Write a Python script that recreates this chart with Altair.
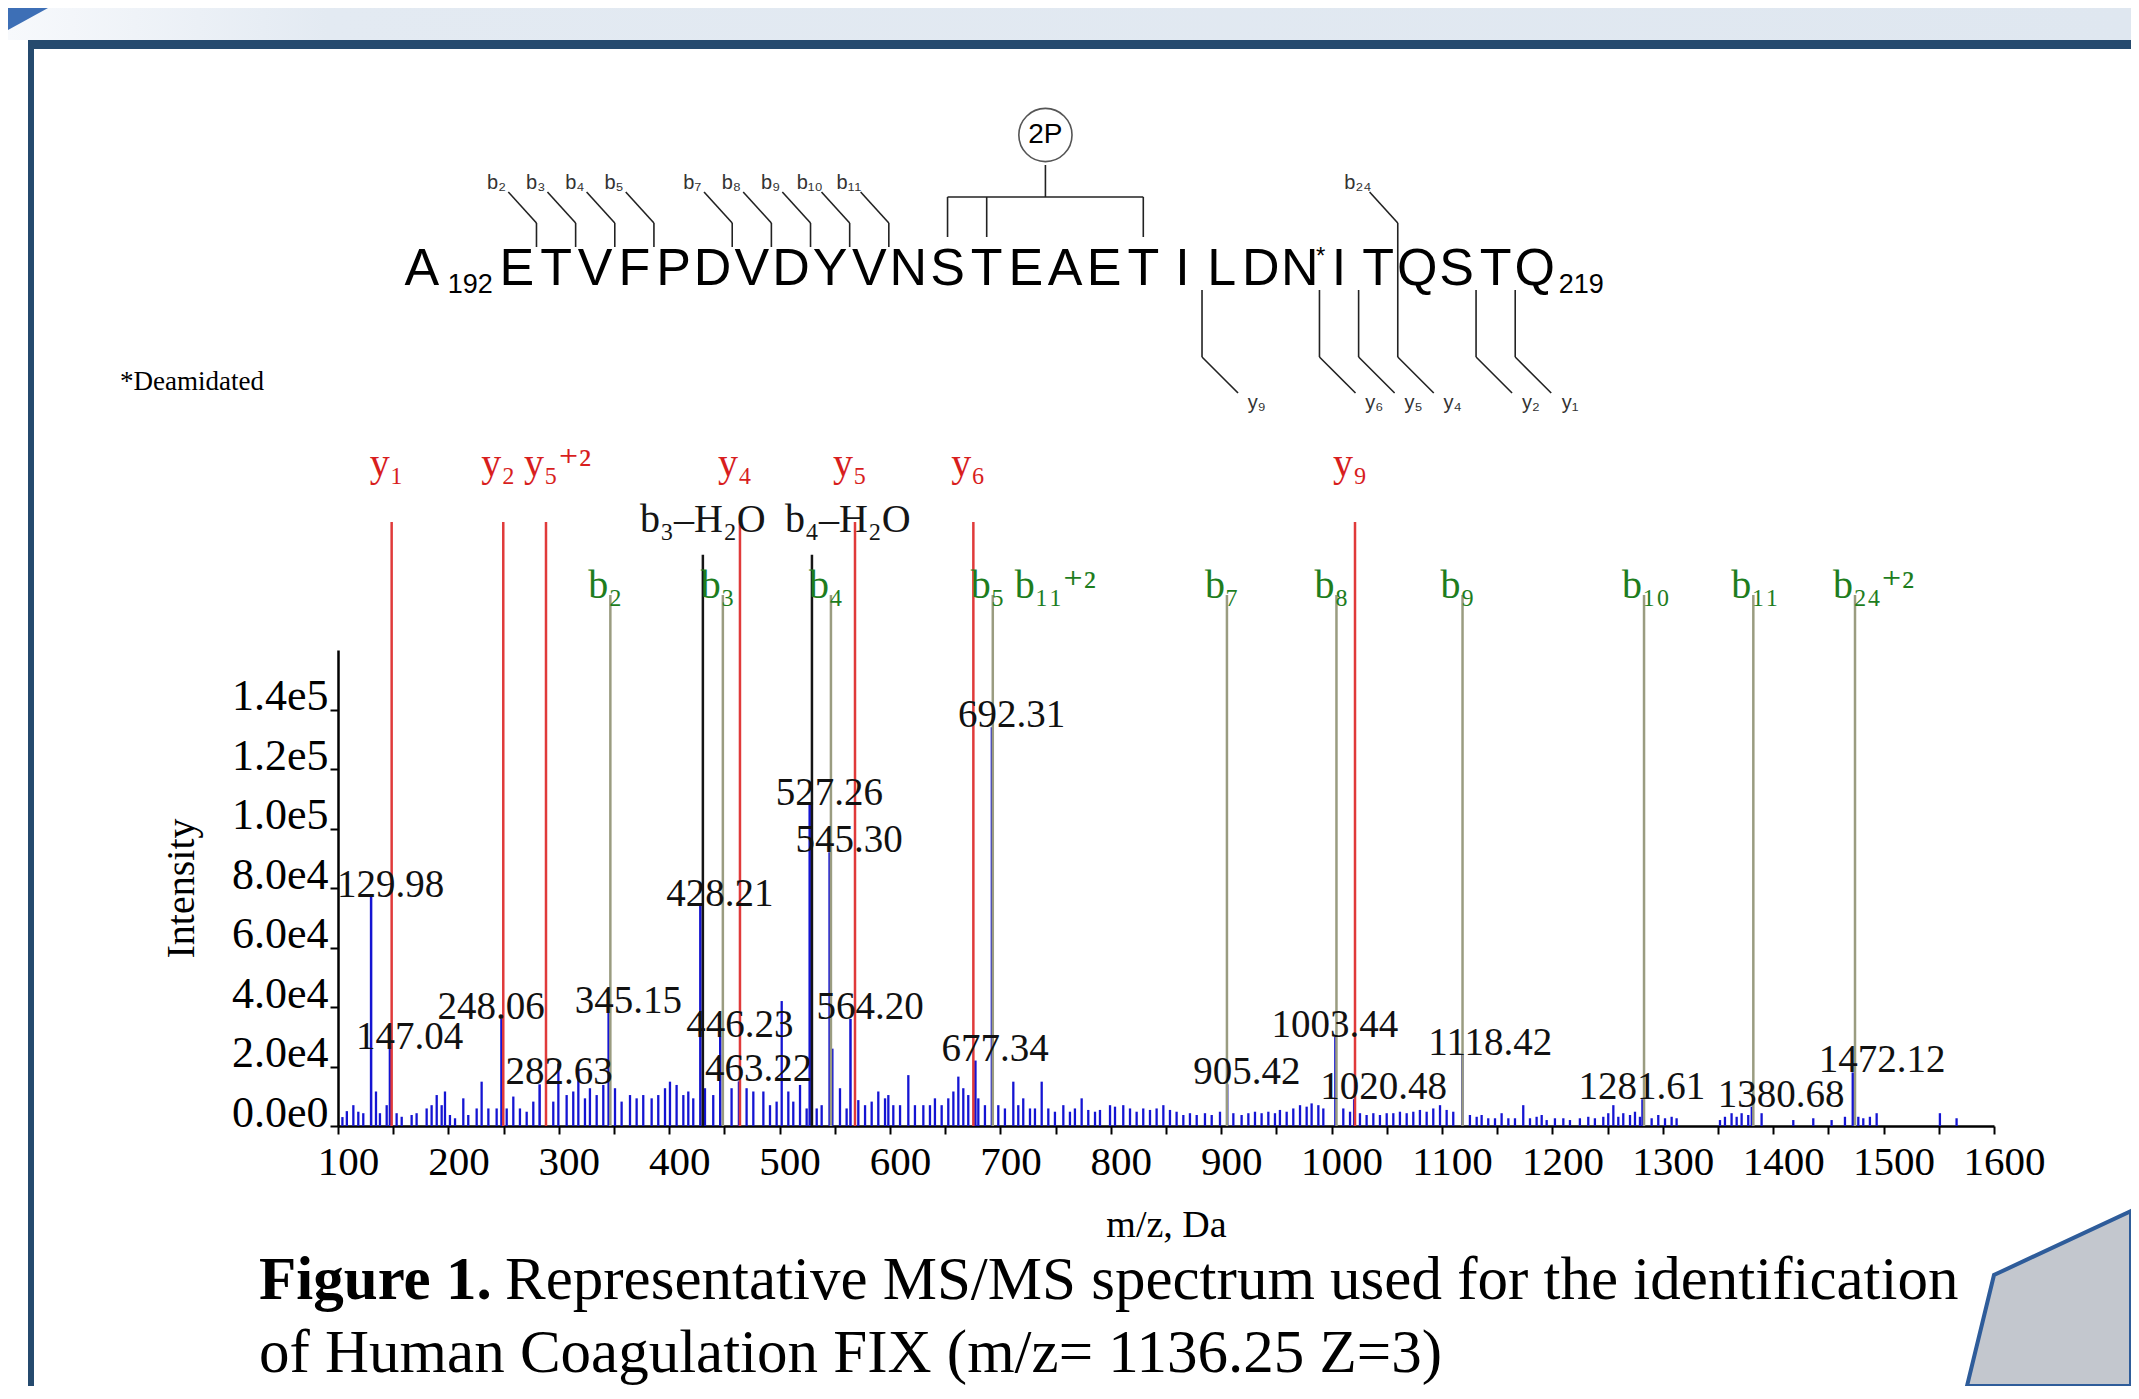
import altair as alt
import pandas as pd

# ---------------- data ----------------
peak_mz = [129.98, 147.04, 248.06, 282.63, 345.15, 428.21, 446.23, 463.22,
           527.26, 545.30, 564.20, 677.34, 692.31, 905.42, 1003.44, 1020.48,
           1118.42, 1281.61, 1380.68, 1472.12]
peak_int = [77000, 26000, 36000, 14000, 38000, 74000, 30000, 15000,
            108000, 92000, 36000, 22000, 134000, 14000, 30000, 9000,
            24000, 9000, 6500, 18000]
# labels that the reference pushes further left to keep them apart
shifted_labels = ["248.06", "1003.44", "1281.61"]

noise_mz = [104.0, 108.0, 113.9, 118.4, 122.9, 134.4, 138.0, 144.1, 153.1, 157.7,
            166.7, 171.2, 180.3, 184.8, 189.4, 193.9, 196.9, 201.4, 206.0, 213.5,
            218.0, 225.6, 230.1, 236.2, 243.7, 252.8, 258.8, 264.8, 270.9, 276.9,
            295.0, 299.6, 307.1, 313.1, 317.7, 323.7, 328.2, 334.3, 340.3, 350.9,
            356.9, 364.5, 370.5, 376.5, 384.1, 390.1, 396.2, 400.7, 406.7, 412.8,
            417.3, 421.8, 432.4, 439.9, 456.5, 470.1, 476.2, 485.3, 491.3, 497.3,
            501.9, 507.9, 512.4, 518.5, 524.5, 533.6, 538.1, 547.8, 554.7, 560.7,
            571.3, 577.4, 583.4, 589.4, 595.5, 598.5, 603.0, 609.1, 616.6, 622.6,
            630.2, 636.2, 640.7, 646.8, 652.8, 657.4, 661.9, 666.4, 670.9, 680.0,
            686.0, 698.1, 704.1, 711.7, 716.2, 720.7, 726.8, 731.3, 737.4, 743.4,
            749.4, 757.0, 763.0, 767.5, 773.6, 779.6, 785.7, 790.2, 799.3, 803.8,
            811.3, 817.4, 823.4, 829.4, 835.5, 841.5, 847.6, 853.6, 859.6, 865.7,
            871.7, 877.8, 885.3, 891.4, 898.9, 911.0, 918.5, 924.6, 930.6, 936.6,
            942.7, 948.7, 953.2, 959.3, 965.3, 971.4, 977.4, 981.9, 988.0, 992.5,
            1010.6, 1016.7, 1025.7, 1031.7, 1037.8, 1043.8, 1049.9, 1055.9, 1061.9, 1068.0,
            1074.0, 1080.0, 1086.1, 1092.1, 1098.2, 1104.2, 1110.2, 1125.3, 1131.4, 1135.9,
            1141.9, 1148.0, 1154.0, 1160.1, 1166.1, 1173.6, 1179.7, 1185.7, 1190.3, 1194.8,
            1202.3, 1209.9, 1215.9, 1224.9, 1232.5, 1238.5, 1246.1, 1250.6, 1255.2, 1259.7,
            1264.2, 1270.3, 1274.8, 1279.3, 1289.9, 1295.9, 1302.0, 1308.0, 1312.5, 1351.8,
            1356.3, 1362.3, 1366.9, 1371.4, 1377.4, 1389.5, 1418.2, 1436.3, 1452.9, 1465.0,
            1477.1, 1481.6, 1487.6, 1493.7, 1551.0, 1566.1]
noise_int = [3000, 5000, 7000, 4800, 4300, 11600, 4300, 7000, 4300, 3100,
             3700, 4300, 5900, 7000, 10400, 7000, 11600, 3700, 2600, 9300,
             3700, 5900, 14900, 5900, 5900, 5900, 9900, 5900, 4800, 8200,
             8200, 21000, 10400, 11600, 19600, 9300, 12700, 10400, 13800, 12700,
             8200, 10400, 9300, 10400, 9300, 10400, 12700, 14900, 13800, 10400,
             11600, 9300, 12700, 10400, 12700, 12700, 11600, 11600, 7000, 8200,
             42000, 11600, 8200, 13800, 5900, 5900, 7000, 26000, 12700, 5900,
             8700, 7000, 8200, 11600, 9300, 10400, 7000, 7000, 17100, 7000,
             7000, 7000, 9300, 7000, 9300, 11600, 16600, 12700, 10400, 9300,
             7000, 7000, 5900, 14900, 7000, 9300, 5900, 5900, 14900, 5900,
             4800, 7000, 4800, 5900, 9300, 5400, 4800, 5400, 7000, 6500,
             7000, 5900, 4800, 5900, 5400, 5900, 7000, 5400, 4800, 3700,
             4300, 3700, 4300, 3700, 4800, 4300, 3700, 4300, 4800, 4300,
             4800, 4300, 5400, 4800, 5900, 7000, 6500, 7600, 7000, 5900,
             5900, 4800, 4300, 3700, 4300, 3700, 4300, 4300, 4800, 4300,
             4800, 5400, 4800, 5900, 7000, 5400, 4800, 3700, 3100, 3700,
             2600, 2600, 4300, 2600, 2600, 7000, 2600, 3100, 3700, 2000,
             2600, 2600, 2000, 2600, 3100, 2600, 3100, 4300, 7000, 3100,
             4300, 3700, 4800, 3100, 2600, 3700, 2600, 3100, 2600, 2000,
             3100, 4300, 3100, 4300, 3700, 4300, 2000, 2600, 2000, 3100,
             3100, 2600, 3100, 4300, 4300, 2600]

y_ion_labels = ["y₁", "y₂", "y₅⁺²", "y₄", "y₅", "y₆", "y₉"]
y_ion_mz = [148.6, 249.7, 288.4, 464.1, 568.3, 675.5, 1021.2]
b_ion_labels = ["b₂", "b₃", "b₄", "b₅ b₁₁⁺²", "b₇", "b₈", "b₉", "b₁₀", "b₁₁", "b₂₄⁺²"]
b_ion_mz = [346.7, 448.6, 546.5, 693.1, 905.2, 1004.4, 1118.6, 1283.0, 1382.0, 1474.1]
loss_labels = ["b₃–H₂O", "b₄–H₂O"]
loss_mz = [430.5, 529.3]

sequence = "AETVFPDVDYVNSTEAETILDNITQSTQ"
first_residue = 192
b_fragments = [2, 3, 4, 5, 7, 8, 9, 10, 11, 24]
y_fragments = [9, 6, 5, 4, 2, 1]
phospho_sites = [204, 205, 209]
deamidated_site = 213

caption_bold = "Figure 1."
caption_line1 = "Representative MS/MS spectrum used for the identification"
caption_line2 = "of Human Coagulation FIX (m/z= 1136.25 Z=3)"

# ---------------- styles / layout ----------------
BLUE = "#1414D2"
RED = "#E03A3A"
RED_TXT = "#D81E1E"
OLIVE = "#9A9C80"
GREEN_TXT = "#1E7D1E"
BLACK = "#151515"
SERIF = "Liberation Serif, DejaVu Serif, serif"
SANS = "Liberation Sans, Arial, DejaVu Sans, sans-serif"

RED_TOP, RED_LAB = 203000, 222500
GREEN_TOP, GREEN_LAB = 178500, 181500
BLACK_TOP, BLACK_LAB = 192000, 203700

SUB = str.maketrans("0123456789", "₀₁₂₃₄₅₆₇₈₉")
def sub(n):
    return str(n).translate(SUB)

n_res = len(sequence)
last_residue = first_residue + n_res - 1

# ---------------- tables ----------------
noise_df = pd.DataFrame({"mz": noise_mz, "intensity": noise_int})
peak_df = pd.DataFrame({"mz": peak_mz, "intensity": peak_int,
                        "label": [f"{m:.2f}" for m in peak_mz]})
peak_df["shift"] = peak_df["label"].isin(shifted_labels)
red_df = pd.DataFrame({"mz": y_ion_mz, "intensity": RED_TOP, "label": y_ion_labels})
red_lab = red_df.assign(intensity=RED_LAB)
green_df = pd.DataFrame({"mz": b_ion_mz, "intensity": GREEN_TOP, "label": b_ion_labels})
green_lab = green_df.assign(intensity=GREEN_LAB)
black_df = pd.DataFrame({"mz": loss_mz, "intensity": BLACK_TOP, "label": loss_labels,
                         "k": [0, 1]})
black_lab = black_df.assign(intensity=BLACK_LAB)

spec_x = alt.X("mz:Q", title="m/z, Da",
               scale=alt.Scale(domain=[100, 1600], nice=False, zero=False),
               axis=alt.Axis(values=list(range(100, 1601, 50)),
                             labelExpr="datum.value % 100 == 0 ? datum.label : ''",
                             format="d", grid=False, domainColor="black", domainWidth=2.5,
                             tickColor="black", tickWidth=2, tickSize=8,
                             labelFont=SERIF, labelFontSize=41, labelColor="black",
                             labelPadding=8, labelOffset=10, labelFlush=False,
                             labelOverlap=False,
                             titleFont=SERIF, titleFontSize=38, titleFontWeight="normal",
                             titleColor="black", titlePadding=24))
spec_y = alt.Y("intensity:Q", title="Intensity",
               scale=alt.Scale(domain=[0, 160000], nice=False, zero=False),
               axis=alt.Axis(values=[0, 20000, 40000, 60000, 80000, 100000, 120000, 140000],
                             labelExpr="replace(format(datum.value, '.1e'), '+', '')",
                             grid=False, domainColor="black", domainWidth=2.5,
                             tickColor="black", tickWidth=2, tickSize=8,
                             labelFont=SERIF, labelFontSize=44, labelColor="black",
                             labelPadding=2, labelBaseline="alphabetic", labelOverlap=False,
                             titleFont=SERIF, titleFontSize=40, titleFontWeight="normal",
                             titleColor="black", titlePadding=30))
base0 = alt.datum(0)

noise = alt.Chart(noise_df).mark_rule(color=BLUE, strokeWidth=2.3).encode(x=spec_x, y=spec_y, y2=base0)
peaks = alt.Chart(peak_df).mark_rule(color=BLUE, strokeWidth=2.5).encode(x=spec_x, y=spec_y, y2=base0)
black_rules = alt.Chart(black_df).mark_rule(color=BLACK, strokeWidth=2.5).encode(x=spec_x, y=spec_y, y2=base0)
green_rules = alt.Chart(green_df).mark_rule(color=OLIVE, strokeWidth=2.5).encode(x=spec_x, y=spec_y, y2=base0)
red_rules = alt.Chart(red_df).mark_rule(color=RED, strokeWidth=2.5).encode(x=spec_x, y=spec_y, y2=base0)
peak_text = alt.Chart(peak_df).transform_filter("!datum.shift").mark_text(
    align="left", baseline="middle", dx=-34, dy=-12,
    font=SERIF, fontSize=39, color="#111111").encode(x=spec_x, y=spec_y, text="label:N")
peak_text_shift = alt.Chart(peak_df).transform_filter("datum.shift").mark_text(
    align="left", baseline="middle", dx=-64, dy=-12,
    font=SERIF, fontSize=39, color="#111111").encode(x=spec_x, y=spec_y, text="label:N")
red_text = alt.Chart(red_lab).mark_text(align="left", baseline="middle", dx=-22,
                                        font=SERIF, fontSize=40, color=RED_TXT).encode(
    x=spec_x, y=spec_y, text="label:N")
green_text = alt.Chart(green_lab).mark_text(align="left", baseline="middle", dx=-22,
                                            font=SERIF, fontSize=40, color=GREEN_TXT).encode(
    x=spec_x, y=spec_y, text="label:N")
black_text_c = alt.Chart(black_lab).transform_filter("datum.k == 0").mark_text(
    align="center", baseline="middle", font=SERIF, fontSize=40, color=BLACK).encode(
    x=spec_x, y=spec_y, text="label:N")
black_text_l = alt.Chart(black_lab).transform_filter("datum.k == 1").mark_text(
    align="left", baseline="middle", dx=-27, font=SERIF, fontSize=40, color=BLACK).encode(
    x=spec_x, y=spec_y, text="label:N")

spectrum = alt.layer(noise, peaks, black_rules, green_rules, red_rules,
                     peak_text, peak_text_shift, red_text, green_text,
                     black_text_c, black_text_l)

# ---------------- peptide schematic (residue scale) ----------------
RES_DOMAIN = [188.43, 230.73]
PAGE_Y = [1126, 650]
sx = alt.X("res:Q", scale=alt.Scale(domain=RES_DOMAIN, nice=False, zero=False), axis=None)
sy = alt.Y("py:Q", scale=alt.Scale(domain=PAGE_Y, nice=False, zero=False), axis=None)

seq_rows = [{"res": first_residue + i, "py": 285, "aa": aa} for i, aa in enumerate(sequence)]
seq_df = pd.DataFrame(seq_rows)

segs = []
labs = []
for n in b_fragments:
    bx = first_residue + n - 0.5
    segs.append({"res": bx, "res2": bx, "py": 247, "py2": 223})
    segs.append({"res": bx, "res2": bx - 0.72, "py": 223, "py2": 192})
    labs.append({"res": bx - 1.02, "py": 183, "t": "b" + sub(n)})
    if (n_res - n) in y_fragments:
        segs.append({"res": bx, "res2": bx, "py": 247, "py2": 290})
for n in y_fragments:
    yx = last_residue - n + 0.5
    segs.append({"res": yx, "res2": yx, "py": 290, "py2": 357})
    segs.append({"res": yx, "res2": yx + 0.92, "py": 357, "py2": 393})
    labs.append({"res": yx + 1.4, "py": 403, "t": "y" + sub(n)})
mid = (min(phospho_sites) + max(phospho_sites)) / 2
segs.append({"res": min(phospho_sites), "res2": max(phospho_sites), "py": 197, "py2": 197})
for s in phospho_sites:
    segs.append({"res": s, "res2": s, "py": 197, "py2": 237})
segs.append({"res": mid, "res2": mid, "py": 197, "py2": 165})
seg_df = pd.DataFrame(segs)
lab_df = pd.DataFrame(labs)
circ_df = pd.DataFrame([{"res": mid, "py": 135, "t": "2P"}])

seq_main = alt.Chart(seq_df).transform_filter(f"datum.res > {first_residue}").mark_text(
    align="center", baseline="alphabetic", font=SANS, fontSize=52, color="black").encode(
    x=sx, y=sy, text="aa:N")
seq_first = alt.Chart(seq_df).transform_filter(f"datum.res == {first_residue}").mark_text(
    align="center", baseline="alphabetic", dx=-56, font=SANS, fontSize=52, color="black").encode(
    x=sx, y=sy, text="aa:N")
num_df = pd.DataFrame([{"res": first_residue, "py": 293, "t": str(first_residue)}])
num_first = alt.Chart(num_df).mark_text(align="left", baseline="alphabetic", dx=-30,
                                        font=SANS, fontSize=27, color="black").encode(
    x=sx, y=sy, text="t:N")
num_last_df = pd.DataFrame([{"res": last_residue, "py": 293, "t": str(last_residue)}])
num_last = alt.Chart(num_last_df).mark_text(align="left", baseline="alphabetic", dx=24,
                                            font=SANS, fontSize=27, color="black").encode(
    x=sx, y=sy, text="t:N")
star_df = pd.DataFrame([{"res": deamidated_site, "py": 264, "t": "*"}])
star = alt.Chart(star_df).mark_text(align="left", baseline="alphabetic", dx=16,
                                    font=SANS, fontSize=24, color="black").encode(
    x=sx, y=sy, text="t:N")
seg_layer = alt.Chart(seg_df).mark_rule(color="#222222", strokeWidth=1.6).encode(
    x=sx, x2="res2:Q", y=sy, y2="py2:Q")
frag_lab = alt.Chart(lab_df).mark_text(align="center", baseline="middle", font=SANS,
                                       fontSize=20, color="#333333").encode(
    x=sx, y=sy, text="t:N")
circle = alt.Chart(circ_df).mark_point(shape="circle", size=2830, filled=False,
                                       color="#555555", strokeWidth=1.6, opacity=1).encode(x=sx, y=sy)
circle_txt = alt.Chart(circ_df).mark_text(align="center", baseline="middle", font=SANS,
                                          fontSize=28, color="black").encode(x=sx, y=sy, text="t:N")

schematic = alt.layer(seg_layer, seq_main, seq_first, num_first, num_last, star,
                      frag_lab, circle, circle_txt)

# ---------------- page furniture (page-pixel scale) ----------------
cx = alt.X("px:Q", scale=alt.Scale(domain=[338, 1994], nice=False, zero=False), axis=None)
cy = alt.Y("py:Q", scale=alt.Scale(domain=PAGE_Y, nice=False, zero=False), axis=None)

band_df = pd.DataFrame([{"px": 8, "px2": 2131, "py": 8, "py2": 40}])
band = alt.Chart(band_df).mark_rect(color=alt.Gradient(
    gradient="linear", x1=0, x2=1, y1=0, y2=0,
    stops=[alt.GradientStop(color="#F7F9FC", offset=0),
           alt.GradientStop(color="#E3EAF2", offset=0.15),
           alt.GradientStop(color="#DFE7F0", offset=1)])).encode(
    x=cx, x2="px2:Q", y=cy, y2="py2:Q")
corner_df = pd.DataFrame([{"py": 8, "px": 8, "px2": 48},
                          {"py": 30, "px": 8, "px2": 8}])
corner = alt.Chart(corner_df).mark_area(orient="horizontal", color="#3D6FB6").encode(
    y=cy, x=cx, x2="px2:Q")
frame_df = pd.DataFrame([{"px": 28, "px2": 2131, "py": 40, "py2": 49},
                         {"px": 28, "px2": 34, "py": 40, "py2": 1386}])
frame = alt.Chart(frame_df).mark_rect(color="#254A6E").encode(x=cx, x2="px2:Q", y=cy, y2="py2:Q")
deco_df = pd.DataFrame([{"py": 1211, "px": 2131, "px2": 2131},
                        {"py": 1275, "px": 1994, "px2": 2131},
                        {"py": 1386, "px": 1967, "px2": 2131}])
deco = alt.Chart(deco_df).mark_area(orient="horizontal", color="#C3C7CE", stroke="#2E5C9A",
                                    strokeWidth=4).encode(y=cy, x=cx, x2="px2:Q")
note_df = pd.DataFrame([{"px": 120, "py": 390, "t": "*Deamidated"}])
note = alt.Chart(note_df).mark_text(align="left", baseline="alphabetic", font=SERIF,
                                    fontSize=27, color="black").encode(x=cx, y=cy, text="t:N")
cap_b_df = pd.DataFrame([{"px": 259, "py": 1299, "t": caption_bold}])
cap_b = alt.Chart(cap_b_df).mark_text(align="left", baseline="alphabetic", font=SERIF,
                                      fontSize=61, fontWeight="bold", color="black").encode(
    x=cx, y=cy, text="t:N")
cap_df = pd.DataFrame([{"px": 505, "py": 1299, "t": caption_line1},
                       {"px": 259, "py": 1372, "t": caption_line2}])
cap = alt.Chart(cap_df).mark_text(align="left", baseline="alphabetic", font=SERIF,
                                  fontSize=61, color="black").encode(x=cx, y=cy, text="t:N")

furniture = alt.layer(band, corner, frame, deco, note, cap_b, cap)

chart = alt.layer(furniture, spectrum, schematic).resolve_scale(
    x="independent", y="independent").properties(
    width=1656, height=476,
    padding={"left": 330, "top": 642, "right": 137, "bottom": 260},
    autosize=alt.AutoSizeParams(type="none"),
    background="white").configure_view(stroke=None)

chart.save("out.html", embed_options={"renderer": "svg", "actions": False})
